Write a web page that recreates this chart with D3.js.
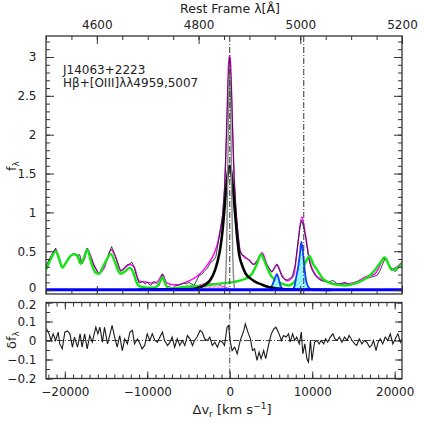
<!DOCTYPE html>
<html>
<head>
<meta charset="utf-8">
<script src="https://cdn.jsdelivr.net/npm/d3@7"></script>
<style>
body { margin: 0; background: #fff; }
svg text { font-family: "DejaVu Sans", sans-serif; fill: #222; }
</style>
</head>
<body>
<svg id="canvas" width="424" height="424"></svg>
<script>
// values (wavelength in Angstrom, flux in plot units)

let obsLam = [4500,4506,4519,4525,4532,4537,4542,4549,4555,4562,4566,4571,4576,4581,4587,4594,4604,4609,4614,4620,4629,4637,4642,4647,4652,4658,4665,4669,4673,4678,4683,4690,4695,4699,4706,4711,4716,4722,4726,4729,4733,4738,4743,4748,4753,4758,4764,4771,4776,4781,4786,4791,4796,4801,4806,4811,4817,4824,4829,4834,4840,4844,4847,4851,4855,4858,4861,4864,4867,4870,4874,4878,4881,4885,4890,4895,4900,4905,4910,4915,4920,4925,4930,4934,4939,4944,4949,4954,4959,4964,4969,4974,4979,4984,4990,4995,4999,5003,5007,5011,5015,5018,5023,5029,5036,5043,5050,5056,5061,5066,5071,5075,5082,5088,5093,5098,5103,5108,5114,5121,5126,5131,5136,5141,5146,5151,5156,5161,5167,5172,5177,5182,5187,5192,5197,5200]
let obsFlux = [0.30,0.39,0.54,0.40,0.29,0.33,0.39,0.44,0.47,0.43,0.46,0.34,0.40,0.54,0.44,0.32,0.21,0.26,0.30,0.40,0.56,0.43,0.33,0.24,0.27,0.32,0.34,0.36,0.30,0.18,0.09,0.11,0.08,0.10,0.06,0.11,0.10,0.06,0.14,0.21,0.12,0.04,0.05,0.02,0.05,0.06,0.07,0.09,0.08,0.10,0.08,0.06,0.12,0.19,0.20,0.24,0.28,0.36,0.38,0.43,0.66,0.82,0.96,1.30,2.00,2.65,3.00,2.70,2.05,1.45,1.00,0.70,0.52,0.45,0.44,0.41,0.38,0.34,0.33,0.36,0.43,0.47,0.40,0.32,0.28,0.23,0.28,0.33,0.26,0.17,0.14,0.13,0.15,0.17,0.32,0.58,0.80,0.90,0.80,0.66,0.48,0.36,0.26,0.19,0.14,0.12,0.11,0.10,0.12,0.12,0.09,0.07,0.09,0.10,0.08,0.06,0.08,0.10,0.11,0.12,0.14,0.15,0.16,0.17,0.18,0.19,0.24,0.32,0.41,0.36,0.30,0.26,0.24,0.28,0.34,0.30]

let modelLam = [4500,4506,4519,4532,4545,4555,4562,4570,4581,4594,4604,4614,4628,4637,4647,4665,4673,4683,4700,4712,4720,4729,4738,4750,4758,4771,4781,4791,4801,4811,4821,4830,4838,4844,4848,4851,4853,4855,4857,4859,4861,4863,4865,4867,4869,4871,4874,4877,4882,4889,4899,4908,4915,4925,4934,4944,4954,4964,4974,4987,4995,5003,5010,5018,5029,5043,5062,5082,5108,5128,5147,5166,5180,5200]
let modelFlux = [0.29,0.38,0.52,0.30,0.41,0.47,0.44,0.36,0.53,0.33,0.22,0.28,0.52,0.42,0.25,0.33,0.30,0.12,0.10,0.09,0.11,0.20,0.09,0.07,0.07,0.09,0.12,0.15,0.20,0.27,0.36,0.46,0.62,0.82,1.00,1.29,1.61,2.05,2.53,2.92,3.02,2.92,2.53,2.05,1.61,1.29,0.98,0.75,0.50,0.43,0.39,0.33,0.38,0.48,0.34,0.24,0.33,0.19,0.12,0.19,0.58,0.94,0.72,0.39,0.21,0.13,0.09,0.08,0.10,0.17,0.21,0.41,0.27,0.36]

let feLam = [4500,4508,4519,4526,4532,4540,4548,4555,4561,4568,4575,4581,4590,4598,4604,4612,4620,4627,4635,4642,4647,4655,4665,4672,4678,4683,4695,4712,4720,4726,4729,4734,4742,4755,4771,4790,4804,4825,4850,4865,4879,4893,4905,4915,4923,4928,4934,4943,4951,4965,4977,4986,4993,5005,5012,5018,5025,5033,5044,5056,5070,5088,5105,5121,5135,5147,5158,5166,5173,5180,5188,5195,5200]
let feFlux = [0.26,0.38,0.50,0.40,0.29,0.36,0.44,0.46,0.45,0.34,0.42,0.52,0.33,0.22,0.21,0.30,0.40,0.47,0.37,0.25,0.21,0.24,0.29,0.22,0.10,0.05,0.035,0.03,0.06,0.13,0.17,0.09,0.015,0.025,0.04,0.05,0.05,0.07,0.09,0.10,0.12,0.15,0.21,0.34,0.46,0.40,0.30,0.18,0.13,0.08,0.06,0.09,0.15,0.28,0.38,0.44,0.34,0.26,0.15,0.10,0.07,0.06,0.08,0.12,0.18,0.26,0.36,0.42,0.34,0.26,0.27,0.31,0.34]

let hbBroadLam = [4680,4720,4760,4790,4804,4815,4824,4832,4837,4843,4847,4851,4855,4858,4861,4864,4867,4871,4875,4880,4885,4892,4900,4911,4925,4938,4964,5000,5060]
let hbBroadFlux = [0.005,0.01,0.01,0.015,0.04,0.08,0.14,0.25,0.36,0.55,0.76,1.05,1.35,1.53,1.60,1.53,1.35,1.05,0.74,0.45,0.33,0.22,0.16,0.11,0.07,0.04,0.015,0.005,0.003]

let hbNarrowLam = [4849,4851,4853,4855,4857,4859,4861,4863,4865,4867,4869,4871,4873]
let hbNarrowFlux = [0.0,0.02,0.13,0.50,1.32,2.37,2.88,2.37,1.32,0.50,0.13,0.02,0.0]

let pinkLam = [4765,4780,4795,4808,4820,4832,4845,4856,4866,4876]
let pinkFlux = [0.0,0.02,0.05,0.08,0.09,0.08,0.055,0.03,0.01,0.0]

let o3aLam = [4937,4942,4946,4950,4954,4957,4960,4963,4968]
let o3aFlux = [0.0,0.03,0.08,0.15,0.21,0.16,0.08,0.03,0.0]

let o3bLam = [4984,4989,4993,4996,4999,5002,5005,5008,5011,5015,5022]
let o3bFlux = [0.0,0.06,0.20,0.30,0.45,0.62,0.50,0.30,0.14,0.05,0.0]

let contLam = [4500,5200]
let contFlux = [0.005,0.005]

let resLam = [4501,4506,4510,4514,4519,4524,4527,4532,4537,4542,4547,4552,4556,4562,4567,4571,4576,4581,4586,4591,4598,4602,4606,4611,4615,4621,4626,4630,4635,4640,4645,4650,4655,4660,4665,4670,4674,4680,4685,4689,4694,4699,4704,4709,4714,4719,4724,4729,4733,4739,4744,4748,4753,4758,4763,4768,4773,4778,4783,4788,4792,4797,4803,4807,4812,4817,4822,4827,4832,4837,4842,4847,4851,4856,4859,4862,4866,4871,4876,4882,4889,4892,4897,4902,4906,4910,4915,4919,4923,4928,4932,4938,4943,4948,4952,4957,4963,4967,4972,4977,4980,4985,4989,4993,4998,5002,5005,5009,5013,5016,5020,5023,5028,5033,5037,5041,5046,5050,5054,5059,5064,5068,5072,5077,5082,5087,5092,5096,5102,5107,5111,5116,5121,5126,5131,5136,5140,5144,5149,5153,5157,5162,5167,5172,5177,5182,5187,5192,5197,5200]
let resVal = [0.062,0.035,0,0.035,0,0.044,-0.018,-0.044,0.044,0.05,0.035,-0.035,0.018,-0.035,0.035,-0.035,0.035,-0.044,0.026,-0.009,0.07,0.035,0.07,-0.009,0.07,-0.018,0.035,0.079,0.018,-0.035,0.026,-0.053,0.009,-0.018,0.044,0.053,-0.018,0.009,-0.018,-0.044,-0.026,0.035,0,0.035,0,-0.009,0.018,0.044,0,-0.026,-0.009,0.018,-0.035,0.009,-0.026,0,-0.026,0.026,0.009,-0.026,0,0.018,0.053,0.044,0.009,0,0.018,-0.026,-0.009,-0.035,0,-0.009,-0.026,0.07,0.079,0,-0.053,-0.035,-0.07,0,0.053,0.088,0.044,0.009,-0.053,-0.044,-0.105,-0.061,-0.096,-0.053,-0.096,-0.018,0.035,0.061,0.07,0.044,0,0.026,0.018,0.035,-0.009,0.035,0,0.018,-0.018,0.044,-0.07,-0.018,-0.096,-0.114,0,-0.105,-0.009,0,-0.018,0,-0.018,0.009,-0.009,0.018,0.035,0.009,0,0.018,-0.009,0.018,0,0.026,0,-0.018,-0.026,0.009,-0.018,0,-0.009,-0.035,-0.026,0,-0.053,-0.009,0.009,-0.018,0.018,0,0.035,-0.018,0.009,0.035,-0.009,0.009]

// axis ticks
let lamTicks = [4600, 4800, 5000, 5200]
let velTicks = [-20000, -10000, 0, 10000, 20000]
let fluxTicks = [0, 0.5, 1, 1.5, 2, 2.5, 3]
let resTicks = [-0.2, -0.1, 0, 0.1, 0.2]

// marked lines (rest wavelengths of Hbeta and [OIII] 5007)
let markLam = [4861.33, 5006.84]

// ---------------------------------------------------------------

let canvas = d3.select('#canvas')

let L0 = 4861.33
let C = 299792.458
let toVel = (l) => C * (l / L0 - 1)

let left = 46, right = 402
let topY = 36, midY = 294
let resTop = 302.5, resBot = 378.5

let xLam = d3.scaleLinear().domain([4500, 5200]).range([left, right])
let xVel = d3.scaleLinear().domain([toVel(4500), toVel(5200)]).range([left, right])
let yF = d3.scaleLinear().domain([-0.05, 3.27]).range([midY, topY])
let yR = d3.scaleLinear().domain([-0.2, 0.2]).range([resBot, resTop])

let zip = (a, b) => a.map((v, i) => [v, b[i]])

let defs = canvas.append('defs')
defs.append('clipPath').attr('id', 'clipTop')
    .append('rect').attr('x', left).attr('y', topY).attr('width', right - left).attr('height', midY - topY)
defs.append('clipPath').attr('id', 'clipBot')
    .append('rect').attr('x', left).attr('y', resTop).attr('width', right - left).attr('height', resBot - resTop)

let cyanPat = defs.append('pattern').attr('id', 'hatchC')
    .attr('width', 3).attr('height', 3).attr('patternUnits', 'userSpaceOnUse')
    .attr('patternTransform', 'rotate(45)')
cyanPat.append('rect').attr('width', 3).attr('height', 3).attr('fill', '#a8ffff')
cyanPat.append('line').attr('x1', 0).attr('y1', 0).attr('x2', 0).attr('y2', 3)
    .attr('stroke', '#30c8d8').attr('stroke-width', 1)

let pinkPat = defs.append('pattern').attr('id', 'hatchP')
    .attr('width', 3).attr('height', 3).attr('patternUnits', 'userSpaceOnUse')
    .attr('patternTransform', 'rotate(45)')
pinkPat.append('rect').attr('width', 3).attr('height', 3).attr('fill', '#ffc8f4')
pinkPat.append('line').attr('x1', 0).attr('y1', 0).attr('x2', 0).attr('y2', 3)
    .attr('stroke', '#f040d8').attr('stroke-width', 1)

// ---------------- upper panel ----------------
let upper = canvas.append('g').attr('clip-path', 'url(#clipTop)')

let smooth = d3.line().x(d => xLam(d[0])).y(d => yF(d[1])).curve(d3.curveMonotoneX)
let jag = d3.line().x(d => xLam(d[0])).y(d => yF(d[1]))
let fillArea = d3.area().x(d => xLam(d[0])).y0(yF(0)).y1(d => yF(d[1])).curve(d3.curveMonotoneX)

upper.append('path').attr('d', smooth(zip(modelLam, modelFlux)))
    .attr('fill', 'none').attr('stroke', '#ff00ff').attr('stroke-width', 1.4)

upper.append('path').attr('d', jag(zip(obsLam, obsFlux)))
    .attr('fill', 'none').attr('stroke', '#262626').attr('stroke-width', 0.9)

upper.append('path').attr('d', fillArea(zip(pinkLam, pinkFlux)))
    .attr('fill', 'url(#hatchP)').attr('stroke', '#ff00ff').attr('stroke-width', 0.8)

upper.append('path').attr('d', smooth(zip(feLam, feFlux)))
    .attr('fill', 'none').attr('stroke', '#12e612').attr('stroke-width', 2.4)

;[zip(o3aLam, o3aFlux), zip(o3bLam, o3bFlux)].forEach(pts => {
    upper.append('path').attr('d', fillArea(pts))
        .attr('fill', 'url(#hatchC)').attr('stroke', '#1040ff').attr('stroke-width', 1.8)
})

upper.append('path').attr('d', smooth(zip(hbBroadLam, hbBroadFlux)))
    .attr('fill', 'none').attr('stroke', '#000').attr('stroke-width', 2.6)

upper.append('path').attr('d', smooth(zip(hbNarrowLam, hbNarrowFlux)))
    .attr('fill', 'none').attr('stroke', '#8a8a8a').attr('stroke-width', 1.4)

upper.append('path').attr('d', jag(zip(contLam, contFlux)))
    .attr('fill', 'none').attr('stroke', '#0000ff').attr('stroke-width', 3)

markLam.forEach(l => {
    upper.append('line')
        .attr('x1', xLam(l)).attr('x2', xLam(l)).attr('y1', topY).attr('y2', midY)
        .attr('stroke', '#333').attr('stroke-width', 1).attr('stroke-dasharray', '6,2,1,2')
})

// ---------------- lower panel ----------------
let lower = canvas.append('g').attr('clip-path', 'url(#clipBot)')

lower.append('line').attr('x1', left).attr('x2', right).attr('y1', yR(0)).attr('y2', yR(0))
    .attr('stroke', '#444').attr('stroke-width', 1).attr('stroke-dasharray', '6,2,1,2')
lower.append('line').attr('x1', xVel(0)).attr('x2', xVel(0)).attr('y1', resTop).attr('y2', resBot)
    .attr('stroke', '#444').attr('stroke-width', 1).attr('stroke-dasharray', '6,2,1,2')

let resLine = d3.line().x(d => xLam(d[0])).y(d => yR(d[1]))
lower.append('path').attr('d', resLine(zip(resLam, resVal)))
    .attr('fill', 'none').attr('stroke', '#1a1a1a').attr('stroke-width', 1.1)

// ---------------- axes ----------------
let drawAxis = (axisFn, scale, values, size, x, y, fmt, pad) => {
    let ax = axisFn(scale).tickValues(values).tickSize(-size).tickPadding(pad || 3)
    ax.tickFormat(fmt ? fmt : () => '')
    let g = canvas.append('g').attr('transform', `translate(${x},${y})`).call(ax)
    g.select('.domain').remove()
    g.selectAll('line').attr('stroke', '#333').attr('stroke-width', 1)
    g.selectAll('text').attr('font-size', 12).attr('fill', '#222')
    return g
}

let fmtG = d3.format('~g')
let fmtD = d3.format('d')

// upper panel
let lamMinor = d3.range(4500, 5201, 50)
let fluxMinor = d3.range(0, 3.25, 0.1)
drawAxis(d3.axisTop, xLam, lamMinor, 4, 0, topY)
drawAxis(d3.axisTop, xLam, lamTicks, 8, 0, topY, fmtD, 7.5)
drawAxis(d3.axisBottom, xLam, lamMinor, 4, 0, midY)
drawAxis(d3.axisBottom, xLam, lamTicks, 8, 0, midY)
drawAxis(d3.axisLeft, yF, fluxMinor, 4, left, 0)
let fluxLab = drawAxis(d3.axisLeft, yF, fluxTicks, 8, left, 0, fmtG, 9.5)
fluxLab.selectAll('text').filter(d => d === 0).attr('dy', '0.1em')
drawAxis(d3.axisRight, yF, fluxMinor, 4, right, 0)
drawAxis(d3.axisRight, yF, fluxTicks, 8, right, 0)

// lower panel
let velMinor = d3.range(-22000, 20001, 1000)
let resMinor = d3.range(-0.2, 0.201, 0.05)
drawAxis(d3.axisTop, xVel, velMinor, 4, 0, resTop)
drawAxis(d3.axisTop, xVel, velTicks, 7, 0, resTop)
drawAxis(d3.axisBottom, xVel, velMinor, 4, 0, resBot)
drawAxis(d3.axisBottom, xVel, velTicks, 7, 0, resBot, fmtD, 8.5)
drawAxis(d3.axisLeft, yR, resMinor, 4, left, 0)
let resLab = drawAxis(d3.axisLeft, yR, resTicks, 7, left, 0, fmtG, 9.5)
resLab.selectAll('text').filter(d => d === 0.2).attr('dy', '0.5em')
drawAxis(d3.axisRight, yR, resMinor, 4, right, 0)
drawAxis(d3.axisRight, yR, resTicks, 7, right, 0)

// frames
canvas.append('rect').attr('x', left).attr('y', topY).attr('width', right - left).attr('height', midY - topY)
    .attr('fill', 'none').attr('stroke', '#333').attr('stroke-width', 1.3)
canvas.append('rect').attr('x', left).attr('y', resTop).attr('width', right - left).attr('height', resBot - resTop)
    .attr('fill', 'none').attr('stroke', '#333').attr('stroke-width', 1.3)

// ---------------- titles ----------------
canvas.append('text').attr('x', 230).attr('y', 13).attr('text-anchor', 'middle')
    .attr('font-size', 12.5).text('Rest Frame λ[Å]')

let xt = canvas.append('text').attr('x', 232).attr('y', 414).attr('text-anchor', 'middle').attr('font-size', 13)
xt.append('tspan').text('Δv')
xt.append('tspan').attr('font-size', 9).attr('dy', 3).text('r')
xt.append('tspan').attr('dy', -3).text(' [km s')
xt.append('tspan').attr('font-size', 9).attr('dy', -5).text('−1')
xt.append('tspan').attr('dy', 5).text(']')

let yt = canvas.append('text').attr('transform', 'translate(16,166) rotate(-90)')
    .attr('text-anchor', 'middle').attr('font-size', 13)
yt.append('tspan').text('f')
yt.append('tspan').attr('font-size', 9).attr('dy', 3).text('λ')

let yt2 = canvas.append('text').attr('transform', 'translate(16,340) rotate(-90)')
    .attr('text-anchor', 'middle').attr('font-size', 13)
yt2.append('tspan').text('δf')
yt2.append('tspan').attr('font-size', 9).attr('dy', 3).text('λ')

canvas.append('text').attr('x', 63).attr('y', 74).attr('font-size', 12).text('J14063+2223')
canvas.append('text').attr('x', 63).attr('y', 86.5).attr('font-size', 12).text('Hβ+[OIII]λλ4959,5007')
</script>
</body>
</html>
